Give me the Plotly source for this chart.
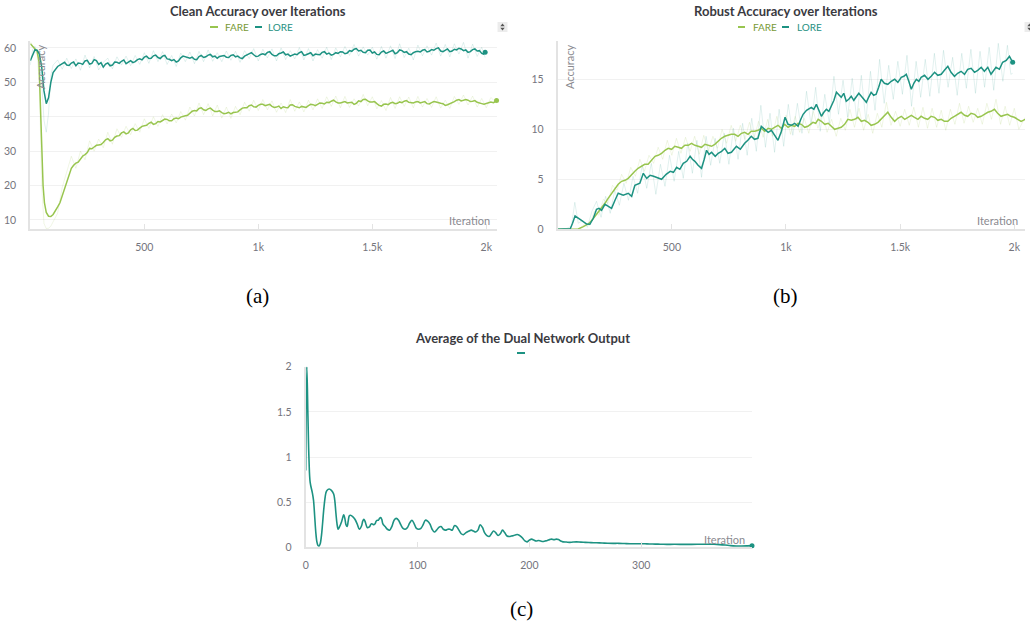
import plotly.graph_objects as go

# ---------------- data ----------------
# (iteration, accuracy) pairs, smoothed curves and raw logged values

clean_lore_smooth = [
    (0, 56.3), (10, 58.0), (20, 59.4), (30, 59.3), (40, 58.2), (50, 54.5), (60, 47.5), (70, 43.8),
    (80, 45.5), (90, 50.0), (100, 52.8), (120, 54.6), (140, 55.4), (160, 55.0), (180, 55.6), (200, 54.8),
    (220, 55.5), (240, 56.2), (260, 55.3), (280, 56.6), (300, 55.2), (320, 54.4), (340, 55.6), (360, 55.0),
    (380, 55.8), (400, 56.1), (420, 55.4), (440, 56.3), (460, 56.0), (480, 56.8), (500, 57.3), (520, 56.9),
    (540, 57.7), (560, 57.2), (580, 57.6), (600, 56.8), (620, 56.3), (640, 55.9), (660, 57.1), (680, 57.4),
    (700, 57.0), (720, 56.7), (740, 57.5), (760, 57.2), (780, 57.9), (800, 57.4), (820, 57.0), (840, 57.6),
    (860, 57.3), (880, 57.8), (900, 57.4), (920, 57.1), (940, 57.6), (960, 58.4), (980, 58.0), (1000, 57.6),
    (1020, 58.3), (1040, 58.7), (1060, 58.1), (1080, 57.7), (1100, 58.5), (1120, 58.0), (1140, 57.6), (1160, 58.2),
    (1180, 58.6), (1200, 57.8), (1220, 58.3), (1240, 57.7), (1260, 58.1), (1280, 58.7), (1300, 58.2), (1320, 57.9),
    (1340, 58.6), (1360, 58.9), (1380, 58.3), (1400, 59.2), (1420, 59.6), (1440, 59.1), (1460, 58.7), (1480, 59.3),
    (1500, 58.5), (1520, 58.1), (1540, 58.8), (1560, 58.4), (1580, 59.0), (1600, 58.3), (1620, 59.4), (1640, 58.7),
    (1660, 58.2), (1680, 58.6), (1700, 59.0), (1720, 59.3), (1740, 58.8), (1760, 59.5), (1780, 59.8), (1800, 59.1),
    (1820, 59.4), (1840, 58.9), (1860, 59.6), (1880, 59.9), (1900, 59.2), (1920, 58.7), (1940, 59.5), (1960, 59.1),
    (1980, 58.4), (1995, 58.7),
]
# in-between logged steps of the same smoothed curve
clean_lore_smooth_mid = [
    (150, 55.8), (170, 54.9), (190, 55.9), (210, 55.6), (230, 55.2), (250, 56.4), (270, 55.5), (290, 56.3),
    (310, 55.7), (330, 55.3), (350, 54.8), (370, 55.9), (390, 55.5), (410, 56.5), (430, 55.9), (450, 55.7),
    (470, 56.6), (490, 56.5), (510, 57.6), (530, 57.0), (550, 57.9), (570, 56.9), (590, 57.8), (610, 56.7),
    (630, 56.6), (650, 56.2), (670, 57.6), (690, 57.0), (710, 57.3), (730, 56.6), (750, 57.8), (770, 57.4),
    (790, 58.1), (810, 57.6), (830, 57.5), (850, 57.8), (870, 57.2), (890, 58.0), (910, 57.6), (930, 56.9),
    (950, 58.0), (970, 58.6), (990, 57.5), (1010, 58.1), (1030, 58.0), (1050, 58.9), (1070, 57.7), (1090, 58.3),
    (1110, 58.8), (1130, 58.2), (1150, 57.9), (1170, 58.0), (1190, 58.9), (1210, 58.0), (1230, 58.6), (1250, 58.2),
    (1270, 58.0), (1290, 58.9), (1310, 58.5), (1330, 58.1), (1350, 58.4), (1370, 58.8), (1390, 58.5), (1410, 59.0),
    (1430, 59.8), (1450, 59.3), (1470, 58.6), (1490, 59.4), (1510, 58.8), (1530, 58.0), (1550, 59.1), (1570, 58.6),
    (1590, 59.3), (1610, 58.6), (1630, 59.2), (1650, 58.9), (1670, 58.0), (1690, 58.9), (1710, 58.8), (1730, 59.5),
    (1750, 59.0), (1770, 59.3), (1790, 60.0), (1810, 58.9), (1830, 59.7), (1850, 59.1), (1870, 59.4), (1890, 59.7),
    (1910, 59.4), (1930, 58.9), (1950, 59.7), (1970, 59.2), (1988, 58.2),
]

clean_fare_smooth = [
    (0, 61.2), (10, 60.5), (20, 60.0), (30, 59.0), (38, 56.0), (44, 45.0), (50, 30.0), (56, 20.0),
    (62, 15.0), (70, 12.2), (80, 11.1), (90, 11.0), (100, 11.6), (110, 12.6), (120, 13.8), (130, 15.0),
    (140, 17.0), (150, 19.0), (160, 21.0), (170, 23.6), (180, 25.0), (200, 26.5), (220, 27.6), (240, 29.0),
    (260, 30.8), (280, 31.2), (300, 31.8), (320, 32.5), (340, 33.6), (360, 33.2), (380, 34.4), (400, 35.3),
    (420, 35.0), (440, 36.2), (460, 36.0), (480, 36.7), (500, 37.4), (520, 38.1), (540, 37.8), (560, 38.6),
    (580, 38.9), (600, 39.2), (620, 38.8), (640, 39.6), (660, 39.9), (680, 40.3), (700, 41.0), (720, 41.8),
    (740, 42.4), (760, 42.0), (780, 42.3), (800, 41.9), (820, 41.5), (840, 41.2), (860, 41.0), (880, 40.8),
    (900, 41.3), (920, 42.0), (940, 42.6), (960, 43.2), (980, 42.9), (1000, 43.3), (1020, 43.6), (1040, 43.4),
    (1060, 43.0), (1080, 42.8), (1100, 42.4), (1120, 42.7), (1140, 43.4), (1160, 43.0), (1180, 42.6), (1200, 42.9),
    (1220, 43.2), (1240, 43.5), (1260, 43.6), (1280, 43.9), (1300, 44.2), (1320, 44.5), (1340, 44.3), (1360, 44.0),
    (1380, 44.4), (1400, 44.1), (1420, 43.6), (1440, 44.6), (1460, 45.0), (1480, 44.6), (1500, 44.3), (1520, 43.8),
    (1540, 43.1), (1560, 43.7), (1580, 44.0), (1600, 43.8), (1620, 44.3), (1640, 44.5), (1660, 44.2), (1680, 44.0),
    (1700, 44.4), (1720, 44.2), (1740, 43.8), (1760, 44.1), (1780, 44.3), (1800, 43.9), (1820, 43.3), (1840, 43.8),
    (1860, 44.4), (1880, 45.0), (1900, 44.7), (1920, 44.8), (1940, 44.5), (1960, 44.2), (1980, 43.8), (2000, 43.9),
    (2020, 44.3), (2045, 44.7),
]
clean_fare_smooth_mid = [
    (190, 25.9), (210, 26.8), (230, 28.6), (250, 29.6), (270, 30.7), (290, 31.7), (310, 31.9), (330, 33.3),
    (350, 33.0), (370, 34.0), (390, 34.5), (410, 35.6), (430, 35.3), (450, 36.6), (470, 36.1), (490, 37.2),
    (510, 37.5), (530, 38.4), (550, 38.0), (570, 38.5), (590, 39.3), (610, 38.8), (630, 39.4), (650, 39.4),
    (670, 40.2), (690, 40.4), (710, 41.6), (730, 41.7), (750, 42.6), (770, 41.8), (790, 42.5), (810, 41.5),
    (830, 41.7), (850, 40.9), (870, 41.3), (890, 41.2), (910, 41.4), (930, 42.5), (950, 42.6), (970, 43.4),
    (990, 42.8), (1010, 43.6), (1030, 43.2), (1050, 43.6), (1070, 42.7), (1090, 43.1), (1110, 42.9), (1130, 42.6),
    (1150, 43.5), (1170, 42.7), (1190, 43.0), (1210, 42.7), (1230, 43.6), (1250, 43.2), (1270, 44.0), (1290, 43.7),
    (1310, 44.1), (1330, 44.8), (1350, 44.0), (1370, 44.3), (1390, 44.0), (1410, 44.2), (1430, 43.9), (1450, 44.4),
    (1470, 45.1), (1490, 44.3), (1510, 44.4), (1530, 43.3), (1550, 43.6), (1570, 43.5), (1590, 44.2), (1610, 43.9),
    (1630, 44.1), (1650, 44.7), (1670, 44.0), (1690, 44.3), (1710, 44.0), (1730, 44.4), (1750, 43.7), (1770, 44.4),
    (1790, 44.0), (1810, 43.8), (1830, 43.5), (1850, 43.9), (1870, 44.8), (1890, 44.6), (1910, 45.0), (1930, 44.4),
    (1950, 44.7), (1970, 43.9), (1990, 43.6), (2010, 44.2), (2032, 44.1),
]

clean_lore_raw = [
    (0, 55.0), (10, 59.5), (20, 60.5), (30, 59.0), (40, 57.0), (50, 50.0), (60, 39.0), (70, 35.5),
    (80, 41.0), (90, 52.0), (100, 55.0), (120, 56.5), (140, 53.8), (160, 57.0), (180, 54.0), (200, 56.8),
    (220, 53.5), (240, 57.9), (260, 54.2), (280, 57.5), (300, 53.6), (320, 55.8), (340, 57.0), (360, 53.9),
    (380, 57.4), (400, 55.0), (420, 57.6), (440, 54.8), (460, 57.8), (480, 55.2), (500, 58.6), (520, 55.5),
    (540, 59.2), (560, 56.0), (580, 58.9), (600, 55.2), (620, 57.8), (640, 54.6), (660, 58.5), (680, 56.0),
    (700, 58.8), (720, 55.4), (740, 59.0), (760, 56.0), (780, 59.4), (800, 56.1), (820, 58.6), (840, 56.0),
    (860, 59.1), (880, 56.4), (900, 59.0), (920, 55.8), (940, 59.2), (960, 56.9), (980, 59.8), (1000, 56.2),
    (1020, 59.6), (1040, 57.1), (1060, 59.7), (1080, 56.2), (1100, 60.0), (1120, 56.6), (1140, 59.2), (1160, 56.8),
    (1180, 60.1), (1200, 56.5), (1220, 59.8), (1240, 56.2), (1260, 59.5), (1280, 57.0), (1300, 60.2), (1320, 56.6),
    (1340, 60.0), (1360, 57.4), (1380, 60.4), (1400, 57.8), (1420, 61.0), (1440, 57.6), (1460, 60.3), (1480, 57.9),
    (1500, 60.2), (1520, 56.7), (1540, 60.4), (1560, 57.0), (1580, 60.6), (1600, 56.9), (1620, 61.2), (1640, 57.2),
    (1660, 59.9), (1680, 56.5), (1700, 60.8), (1720, 57.7), (1740, 60.6), (1760, 57.9), (1780, 61.4), (1800, 57.6),
    (1820, 61.0), (1840, 57.4), (1860, 61.2), (1880, 58.2), (1900, 61.6), (1920, 57.0), (1940, 61.1), (1960, 57.5),
    (1980, 60.2), (1995, 57.2),
]

clean_fare_raw = [
    (0, 61.8), (10, 60.8), (20, 59.5), (30, 58.0), (40, 50.0), (50, 20.0), (60, 9.0), (70, 7.5),
    (80, 7.6), (90, 8.2), (100, 9.5), (120, 12.0), (140, 19.5), (160, 24.0), (180, 28.5), (200, 25.0),
    (220, 30.0), (240, 27.5), (260, 33.0), (280, 30.0), (300, 33.5), (320, 31.0), (340, 35.5), (360, 32.0),
    (380, 36.5), (400, 34.0), (420, 37.2), (440, 34.8), (460, 38.0), (480, 35.5), (500, 39.4), (520, 36.6),
    (540, 40.0), (560, 37.2), (580, 40.6), (600, 37.9), (620, 40.8), (640, 38.2), (660, 41.5), (680, 39.0),
    (700, 42.8), (720, 40.2), (740, 44.0), (760, 40.6), (780, 43.8), (800, 40.2), (820, 43.4), (840, 39.6),
    (860, 42.8), (880, 39.5), (900, 43.0), (920, 40.6), (940, 44.2), (960, 41.6), (980, 44.8), (1000, 41.8),
    (1020, 45.0), (1040, 42.0), (1060, 44.6), (1080, 41.3), (1100, 44.0), (1120, 41.2), (1140, 45.0), (1160, 41.6),
    (1180, 44.3), (1200, 41.4), (1220, 44.8), (1240, 42.0), (1260, 45.2), (1280, 42.4), (1300, 45.8), (1320, 43.0),
    (1340, 46.0), (1360, 42.6), (1380, 45.9), (1400, 42.7), (1420, 45.2), (1440, 43.1), (1460, 46.5), (1480, 43.2),
    (1500, 45.8), (1520, 42.3), (1540, 44.7), (1560, 41.8), (1580, 45.6), (1600, 42.4), (1620, 45.8), (1640, 43.0),
    (1660, 45.7), (1680, 42.6), (1700, 45.9), (1720, 42.8), (1740, 45.3), (1760, 42.7), (1780, 45.8), (1800, 42.5),
    (1820, 44.8), (1840, 42.4), (1860, 45.9), (1880, 43.6), (1900, 46.3), (1920, 43.4), (1940, 46.0), (1960, 42.8),
    (1980, 45.3), (2000, 42.6), (2020, 45.6), (2045, 44.0),
]

robust_lore_smooth = [
    (0, 0.0), (20, 0.02), (40, 0.03), (55, 0.05), (65, 0.6), (76, 1.33), (98, 1.0), (115, 0.7),
    (127, 0.53), (141, 0.5), (156, 1.1), (170, 2.0), (181, 2.1), (192, 1.9), (207, 2.5), (222, 2.3),
    (236, 2.1), (251, 2.9), (265, 3.6), (287, 3.4), (309, 3.6), (324, 3.3), (338, 4.4), (360, 4.6),
    (375, 5.6), (390, 5.1), (405, 5.4), (420, 5.3), (440, 5.1), (455, 5.0), (475, 5.5), (493, 5.8),
    (507, 5.7), (521, 6.2), (535, 6.0), (550, 6.6), (565, 6.8), (580, 7.3), (590, 7.0), (601, 6.8),
    (615, 6.4), (630, 6.1), (642, 7.0), (652, 7.9), (663, 7.5), (674, 7.7), (690, 7.3), (703, 7.6),
    (718, 7.8), (732, 8.1), (746, 7.6), (761, 7.7), (772, 8.0), (783, 8.3), (800, 8.0), (819, 8.6),
    (833, 8.9), (848, 9.3), (862, 9.0), (877, 9.1), (892, 10.3), (907, 10.0), (922, 9.7), (936, 9.9),
    (950, 9.4), (965, 8.9), (980, 9.8), (996, 11.2), (1009, 10.5), (1023, 10.4), (1038, 10.6), (1053, 10.3),
    (1065, 11.0), (1075, 11.5), (1090, 11.9), (1111, 12.2), (1122, 12.0), (1133, 12.5), (1144, 11.9), (1155, 11.3),
    (1166, 11.7), (1177, 12.0), (1188, 11.8), (1199, 12.3), (1210, 12.9), (1221, 13.7), (1232, 13.4), (1242, 13.2),
    (1253, 13.6), (1264, 12.8), (1275, 13.0), (1286, 13.3), (1297, 12.9), (1308, 13.2), (1319, 13.6), (1330, 13.3),
    (1341, 13.0), (1352, 12.7), (1362, 13.2), (1373, 13.7), (1384, 13.4), (1395, 13.5), (1406, 14.2), (1417, 15.0),
    (1431, 14.6), (1446, 14.5), (1461, 14.8), (1476, 15.0), (1490, 14.7), (1505, 15.2), (1516, 15.3), (1527, 15.5),
    (1538, 14.8), (1549, 14.0), (1560, 14.6), (1571, 15.0), (1582, 14.8), (1592, 15.2), (1607, 15.4), (1622, 15.0),
    (1636, 15.3), (1651, 15.7), (1665, 15.4), (1680, 15.5), (1694, 15.9), (1709, 16.3), (1723, 15.7), (1738, 15.3),
    (1752, 15.6), (1767, 15.8), (1782, 15.5), (1796, 16.0), (1811, 16.1), (1826, 15.7), (1840, 15.9), (1855, 16.2),
    (1869, 15.8), (1884, 16.2), (1898, 15.5), (1910, 15.9), (1920, 16.2), (1935, 16.0), (1949, 16.7), (1965, 16.9),
    (1979, 17.3), (1993, 16.7),
]

robust_fare_smooth = [
    (0, 0.0), (40, 0.0), (70, 0.0), (90, 0.03), (112, 0.27), (134, 0.53), (150, 0.9), (163, 1.27),
    (178, 1.7), (192, 2.1), (207, 2.6), (221, 3.1), (236, 3.6), (251, 4.1), (265, 4.5), (280, 4.8),
    (295, 4.9), (309, 5.1), (324, 5.5), (338, 5.8), (352, 6.1), (367, 6.3), (381, 6.5), (396, 6.5),
    (411, 6.9), (426, 7.3), (440, 7.4), (455, 7.6), (470, 7.9), (484, 8.1), (499, 8.0), (513, 8.3),
    (528, 8.2), (542, 8.1), (557, 8.4), (572, 8.4), (586, 8.6), (601, 8.4), (615, 8.3), (630, 8.2),
    (645, 8.5), (659, 8.4), (674, 8.3), (688, 8.5), (703, 8.8), (717, 9.1), (732, 9.3), (746, 9.4),
    (760, 9.5), (775, 9.5), (790, 9.3), (805, 9.6), (819, 9.7), (834, 9.5), (848, 9.8), (863, 9.8),
    (878, 9.9), (892, 10.1), (907, 9.8), (922, 10.1), (936, 10.0), (950, 10.2), (965, 10.4), (980, 10.1),
    (994, 10.5), (1009, 10.2), (1023, 10.4), (1038, 10.3), (1053, 10.6), (1067, 10.5), (1082, 10.2), (1096, 10.3),
    (1107, 10.5), (1118, 10.7), (1130, 10.6), (1141, 11.0), (1155, 10.8), (1170, 10.5), (1185, 10.6), (1199, 10.3),
    (1213, 10.0), (1228, 10.1), (1242, 10.2), (1257, 10.5), (1271, 11.0), (1286, 10.9), (1301, 11.0), (1315, 11.2),
    (1330, 10.8), (1344, 10.9), (1359, 10.7), (1373, 10.4), (1388, 10.5), (1403, 10.7), (1417, 11.0), (1432, 11.4),
    (1446, 11.7), (1461, 11.2), (1476, 10.8), (1490, 11.1), (1505, 11.3), (1520, 11.0), (1534, 11.2), (1549, 11.4),
    (1563, 11.2), (1578, 11.0), (1592, 11.3), (1607, 11.1), (1621, 11.0), (1636, 11.3), (1651, 11.2), (1665, 10.9),
    (1680, 11.0), (1694, 10.8), (1709, 10.8), (1723, 11.1), (1738, 11.3), (1752, 11.5), (1767, 11.7), (1782, 11.4),
    (1796, 11.3), (1811, 11.6), (1826, 11.5), (1840, 11.2), (1855, 11.3), (1869, 11.5), (1884, 11.7), (1898, 11.8),
    (1913, 12.0), (1927, 11.6), (1942, 11.3), (1956, 11.4), (1971, 11.5), (1985, 11.3), (2000, 11.2), (2015, 11.0),
    (2030, 10.8), (2048, 11.0),
]

robust_lore_raw = [
    (0, 0.0), (20, 0.0), (40, 0.1), (60, 0.3), (75, 2.7), (90, 0.6), (110, 0.9), (130, 0.2),
    (150, 1.8), (170, 2.8), (190, 1.2), (210, 3.3), (230, 1.6), (250, 3.9), (270, 2.4), (290, 4.6),
    (310, 2.9), (330, 5.3), (350, 3.6), (370, 6.4), (390, 4.1), (410, 6.6), (430, 3.5), (450, 6.5),
    (470, 4.3), (490, 7.4), (510, 4.8), (530, 7.8), (550, 5.1), (570, 8.6), (590, 5.6), (610, 8.9),
    (630, 5.2), (650, 9.3), (670, 6.4), (690, 9.1), (710, 6.6), (730, 9.6), (750, 6.5), (770, 10.1),
    (790, 7.0), (810, 10.6), (830, 7.4), (850, 11.1), (870, 7.8), (890, 12.4), (910, 8.2), (930, 11.6),
    (950, 7.7), (970, 12.0), (990, 8.3), (1010, 12.5), (1030, 9.4), (1050, 12.6), (1070, 9.6), (1090, 13.8),
    (1110, 10.4), (1130, 14.2), (1150, 9.8), (1170, 13.5), (1190, 10.6), (1210, 15.3), (1230, 11.5), (1250, 14.9),
    (1270, 11.2), (1290, 15.1), (1310, 11.0), (1330, 15.4), (1350, 10.8), (1370, 15.8), (1390, 11.9), (1410, 17.0),
    (1430, 12.6), (1450, 16.4), (1470, 13.0), (1490, 16.8), (1510, 13.5), (1530, 17.4), (1550, 12.3), (1570, 16.8),
    (1590, 13.2), (1610, 17.0), (1630, 13.3), (1650, 17.6), (1670, 13.6), (1690, 17.9), (1710, 14.2), (1730, 17.2),
    (1750, 13.4), (1770, 17.6), (1790, 14.1), (1810, 18.0), (1830, 13.6), (1850, 17.8), (1870, 14.2), (1890, 18.2),
    (1910, 13.9), (1930, 18.6), (1950, 14.8), (1970, 18.4), (1985, 15.5), (1993, 15.6),
]

robust_fare_raw = [
    (0, 0.0), (40, 0.0), (80, 0.0), (100, 0.1), (120, 0.6), (140, 0.4), (160, 1.8), (180, 1.4),
    (200, 3.0), (220, 2.6), (240, 4.4), (260, 3.9), (280, 5.5), (300, 4.6), (320, 6.2), (340, 5.3),
    (360, 7.0), (380, 5.8), (400, 7.4), (420, 6.6), (440, 8.2), (460, 7.0), (480, 8.9), (500, 7.4),
    (520, 9.1), (540, 7.6), (560, 9.2), (580, 7.8), (600, 9.3), (620, 7.5), (640, 9.4), (660, 7.8),
    (680, 9.3), (700, 8.1), (720, 10.0), (740, 8.6), (760, 10.4), (780, 8.8), (800, 10.4), (820, 9.0),
    (840, 10.7), (860, 9.1), (880, 10.8), (900, 9.2), (920, 11.0), (940, 9.3), (960, 11.3), (980, 9.5),
    (1000, 11.4), (1020, 9.5), (1040, 11.3), (1060, 9.7), (1080, 11.1), (1100, 9.6), (1120, 11.8), (1140, 10.1),
    (1160, 11.7), (1180, 9.7), (1200, 11.0), (1220, 9.3), (1240, 11.1), (1260, 9.9), (1280, 12.0), (1300, 10.2),
    (1320, 12.1), (1340, 9.9), (1360, 11.5), (1380, 9.6), (1400, 11.6), (1420, 10.2), (1440, 12.7), (1460, 10.4),
    (1480, 11.8), (1500, 10.3), (1520, 12.0), (1540, 10.4), (1560, 12.2), (1580, 10.2), (1600, 12.2), (1620, 10.1),
    (1640, 12.1), (1660, 10.2), (1680, 11.9), (1700, 9.9), (1720, 12.0), (1740, 10.5), (1760, 12.6), (1780, 10.6),
    (1800, 12.3), (1820, 10.7), (1840, 12.1), (1860, 10.5), (1880, 12.6), (1900, 11.0), (1920, 13.0), (1940, 10.5),
    (1960, 12.3), (1980, 10.4), (2000, 12.1), (2020, 10.0), (2048, 11.2),
]

dual_output = [
    (0, 0.85), (1, 2.0), (2, 1.45), (3, 0.95), (4, 0.72), (6, 0.6), (7, 0.52), (8, 0.35),
    (9, 0.17), (10, 0.06), (11, 0.02), (12, 0.015), (13, 0.04), (14, 0.12), (15, 0.25), (16, 0.4),
    (17, 0.52), (18, 0.6), (19, 0.63), (21, 0.645), (23, 0.63), (25, 0.59), (26, 0.52), (27, 0.38),
    (28, 0.26), (29, 0.2), (30, 0.22), (32, 0.28), (34, 0.36), (35, 0.32), (36, 0.25), (37, 0.23),
    (38, 0.29), (39, 0.35), (40, 0.355), (42, 0.34), (44, 0.31), (46, 0.26), (48, 0.2), (50, 0.24),
    (51, 0.29), (52, 0.31), (53, 0.29), (54, 0.25), (55, 0.22), (57, 0.225), (58, 0.25), (59, 0.26),
    (61, 0.25), (62, 0.26), (63, 0.29), (64, 0.3), (65, 0.3), (66, 0.32), (67, 0.33), (68, 0.31),
    (69, 0.26), (71, 0.23), (73, 0.2), (75, 0.19), (77, 0.23), (79, 0.3), (81, 0.32), (83, 0.3),
    (85, 0.25), (87, 0.21), (89, 0.2), (91, 0.22), (93, 0.27), (95, 0.3), (97, 0.26), (99, 0.21),
    (101, 0.2), (103, 0.21), (105, 0.25), (107, 0.3), (109, 0.29), (111, 0.26), (113, 0.2), (115, 0.17),
    (117, 0.19), (119, 0.22), (121, 0.23), (123, 0.2), (125, 0.19), (127, 0.2), (129, 0.2), (131, 0.19),
    (133, 0.24), (135, 0.23), (137, 0.19), (139, 0.15), (141, 0.14), (143, 0.16), (146, 0.18), (148, 0.19),
    (150, 0.18), (152, 0.17), (154, 0.19), (156, 0.25), (158, 0.22), (160, 0.16), (162, 0.13), (164, 0.12),
    (166, 0.15), (168, 0.18), (170, 0.16), (172, 0.13), (174, 0.15), (176, 0.19), (178, 0.16), (180, 0.125),
    (182, 0.12), (184, 0.125), (186, 0.13), (188, 0.14), (190, 0.14), (192, 0.125), (194, 0.1), (196, 0.07),
    (198, 0.06), (200, 0.08), (202, 0.09), (204, 0.08), (206, 0.07), (208, 0.075), (210, 0.07), (212, 0.065),
    (214, 0.07), (216, 0.075), (218, 0.085), (220, 0.09), (222, 0.085), (224, 0.09), (226, 0.085), (228, 0.07),
    (230, 0.06), (233, 0.058), (236, 0.055), (239, 0.058), (242, 0.06), (246, 0.057), (250, 0.055), (255, 0.052),
    (260, 0.05), (265, 0.048), (270, 0.045), (275, 0.044), (280, 0.044), (285, 0.042), (290, 0.04), (295, 0.04),
    (300, 0.04), (305, 0.038), (310, 0.036), (315, 0.035), (320, 0.033), (330, 0.033), (340, 0.032), (350, 0.033),
    (360, 0.034), (365, 0.033), (370, 0.03), (375, 0.025), (380, 0.018), (385, 0.015), (390, 0.014), (395, 0.016),
    (399, 0.018),
]

panel_titles = ["Clean Accuracy over Iterations", "Robust Accuracy over Iterations",
                "Average of the Dual Network Output"]
series_names = ["FARE", "LORE"]
captions = ["(a)", "(b)", "(c)"]

acc_x_tickvals = [500, 1000, 1500, 2000]
acc_x_ticktext = ["500", "1k", "1.5k", "2k"]
clean_y_ticks = [10, 20, 30, 40, 50, 60]
robust_y_ticks = [0, 5, 10, 15]
dual_x_ticks = [0, 100, 200, 300]
dual_y_ticks = [0, 0.5, 1, 1.5, 2]
dual_y_ticktext = ["0", "0.5", "1", "1.5", "2"]

# ---------------- style ----------------
W, H = 1030, 630
FARE_C = "#98c54f"
LORE_C = "#1d9282"
FARE_RAW = "rgba(152,197,79,0.15)"
LORE_RAW = "rgba(29,146,130,0.13)"
FARE_TXT = "#789a36"
LORE_TXT = "#25907f"
AXIS_C = "#e3e3e3"
GRID_C = "#f1f1f1"
TICK_TXT = "#75757d"
FONT = "Lato"


def px(x):
    return x / W


def py(y):
    return 1 - y / H


def unzip(pairs):
    pairs = sorted(pairs)
    return [p[0] for p in pairs], [p[1] for p in pairs]


fig = go.Figure()


def add_line(pairs, color, width, xa, ya, shape="linear", end_dot=False):
    xs, ys = unzip(pairs)
    fig.add_trace(go.Scatter(x=xs, y=ys, mode="lines", xaxis=xa, yaxis=ya,
                             line=dict(color=color, width=width, shape=shape),
                             hoverinfo="skip", showlegend=False))
    if end_dot:
        fig.add_trace(go.Scatter(x=[xs[-1]], y=[ys[-1]], mode="markers", xaxis=xa, yaxis=ya,
                                 marker=dict(color=color, size=5), cliponaxis=False,
                                 hoverinfo="skip", showlegend=False))


# panel (a)
add_line(clean_fare_raw, FARE_RAW, 1, "x", "y")
add_line(clean_lore_raw, LORE_RAW, 1, "x", "y")
add_line(clean_fare_smooth + clean_fare_smooth_mid, FARE_C, 1.5, "x", "y", end_dot=True)
add_line(clean_lore_smooth + clean_lore_smooth_mid, LORE_C, 1.5, "x", "y", end_dot=True)
# panel (b)
add_line(robust_fare_raw, FARE_RAW, 1, "x2", "y2")
add_line(robust_lore_raw, LORE_RAW, 1, "x2", "y2")
add_line(robust_fare_smooth, FARE_C, 1.5, "x2", "y2", end_dot=True)
add_line(robust_lore_smooth, LORE_C, 1.5, "x2", "y2", end_dot=True)
# panel (c)
add_line(dual_output, LORE_C, 1.6, "x3", "y3", shape="spline", end_dot=True)

tickfont = dict(family=FONT, size=10.5, color=TICK_TXT)
common_x = dict(showline=True, linecolor=AXIS_C, linewidth=2, showgrid=False, zeroline=False,
                ticks="inside", ticklen=5, tickwidth=1, tickcolor=AXIS_C, tickfont=tickfont,
                ticklabelstandoff=7, fixedrange=True, automargin=False)
common_y = dict(showline=True, linecolor=AXIS_C, linewidth=2, showgrid=True, gridcolor=GRID_C,
                gridwidth=1, zeroline=False, ticks="", tickfont=tickfont, ticklabelstandoff=10,
                fixedrange=True, automargin=False)

fig.update_layout(
    template="none",
    width=W, height=H, autosize=False,
    margin=dict(l=0, r=0, t=0, b=0, pad=0, autoexpand=False),
    showlegend=False,
    paper_bgcolor="white", plot_bgcolor="white",
    xaxis=dict(common_x, domain=[px(30.3), px(497)], range=[0, 2047], anchor="y",
               tickvals=acc_x_tickvals, ticktext=acc_x_ticktext),
    yaxis=dict(common_y, domain=[py(229), py(41)], range=[7.38, 62.0], anchor="x",
               tickvals=clean_y_ticks),
    xaxis2=dict(common_x, domain=[px(557.7), px(1025)], range=[0, 2047], anchor="y2",
                tickvals=acc_x_tickvals, ticktext=acc_x_ticktext),
    yaxis2=dict(common_y, domain=[py(229.3), py(41)], range=[0, 18.83], anchor="x2",
                tickvals=robust_y_ticks),
    xaxis3=dict(common_x, domain=[px(305.7), px(752)], range=[0, 399], anchor="y3",
                tickvals=dual_x_ticks),
    yaxis3=dict(common_y, domain=[py(547.3), py(366.7)], range=[0, 2.0], anchor="x3",
                tickvals=dual_y_ticks, ticktext=dual_y_ticktext),
)

annotations = []
shapes = []


def text(x, y, s, size, color, xanchor="center", family=FONT, weight=None, angle=0):
    f = dict(family=family, size=size, color=color)
    if weight:
        f["weight"] = weight
    annotations.append(dict(x=px(x), y=py(y), xref="paper", yref="paper", text=s, showarrow=False,
                            xanchor=xanchor, yanchor="middle", font=f, textangle=angle))


def dash(x0, x1, y, color):
    shapes.append(dict(type="line", xref="paper", yref="paper", x0=px(x0), x1=px(x1),
                       y0=py(y), y1=py(y), line=dict(color=color, width=2)))


# titles
text(258, 11, panel_titles[0], 13, "#3a3a3f", weight=700)
text(786, 11, panel_titles[1], 13, "#3a3a3f", weight=700)
text(522, 337.5, panel_titles[2], 13, "#3a3a3f", weight=700)

# legends
dash(210, 218, 27, FARE_C)
text(223, 27, series_names[0], 10, FARE_TXT, xanchor="left")
dash(255, 262, 27, LORE_C)
text(266, 27, series_names[1], 10, LORE_TXT, xanchor="left")
dash(738, 745, 27, FARE_C)
text(751, 27, series_names[0], 10, FARE_TXT, xanchor="left")
dash(782, 789, 27, LORE_C)
text(795, 27, series_names[1], 10, LORE_TXT, xanchor="left")
dash(517, 525, 353, LORE_C)

# axis titles drawn inside the plot area
text(41, 67, "Accuracy", 11, "#8a8a90", angle=-90)
text(570, 67, "Accuracy", 11, "#8a8a90", angle=-90)
text(492, 221, "Iteration", 11, "#8a8a90", xanchor="right")
text(1020, 221, "Iteration", 11, "#8a8a90", xanchor="right")
text(747, 539, "Iteration", 11, "#8a8a90", xanchor="right")

# sub-figure captions
text(257, 296, captions[0], 21, "#000000", family="Liberation Serif")
text(785, 296, captions[1], 21, "#000000", family="Liberation Serif")
text(521, 609, captions[2], 21, "#000000", family="Liberation Serif")

# small sort toggles next to the legends
for cx in (502.5, 1029.5):
    shapes.append(dict(type="rect", xref="paper", yref="paper", x0=px(cx - 5), x1=px(cx + 5),
                       y0=py(32), y1=py(22), fillcolor="#ececec", line=dict(width=0), layer="above"))
    shapes.append(dict(type="path", xref="paper", yref="paper",
                       path=f"M {px(cx - 2.2)} {py(26.3)} L {px(cx + 2.2)} {py(26.3)} L {px(cx)} {py(23.6)} Z",
                       fillcolor="#555", line=dict(width=0)))
    shapes.append(dict(type="path", xref="paper", yref="paper",
                       path=f"M {px(cx - 2.2)} {py(27.7)} L {px(cx + 2.2)} {py(27.7)} L {px(cx)} {py(30.4)} Z",
                       fillcolor="#555", line=dict(width=0)))

fig.update_layout(annotations=annotations, shapes=shapes)

fig.write_html("out.html")
